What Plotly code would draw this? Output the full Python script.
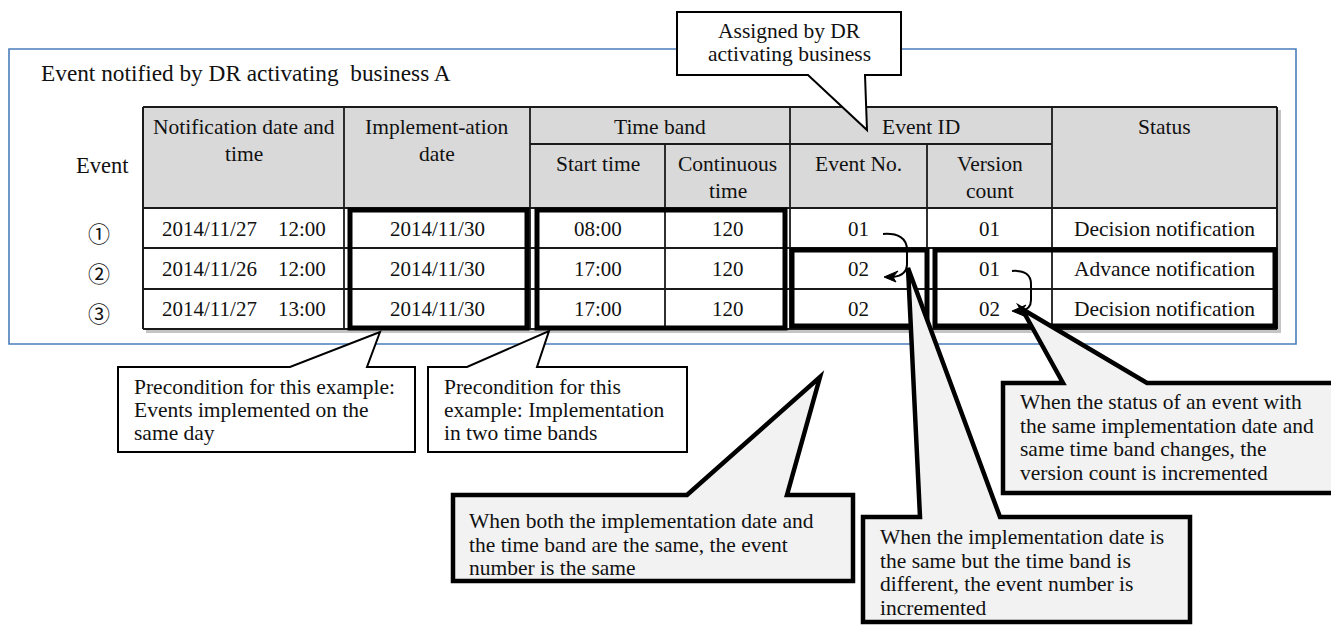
import plotly.graph_objects as go

W, H = 1339, 626
BODY_MARGIN = 8  # default page margin of the html body
SERIF = "Liberation Serif, Times New Roman, serif"
CJK = "Noto Sans CJK JP, DejaVu Sans, sans-serif"

# ---------------- data ----------------
title_text = "Event notified by DR activating\u00a0 business A"
events = ["①", "②", "③"]
notification = ["2014/11/27\u300012:00", "2014/11/26\u300012:00", "2014/11/27\u300013:00"]
impl_date = ["2014/11/30", "2014/11/30", "2014/11/30"]
start_time = ["08:00", "17:00", "17:00"]
continuous = ["120", "120", "120"]
event_no = ["01", "02", "02"]
version = ["01", "01", "02"]
status = ["Decision notification", "Advance notification", "Decision notification"]

header_top = ["Notification date and<br>time", "Implement-ation<br>date"]
group_headers = ["Time band", "Event ID"]
sub_headers = ["Start time", "Continuous<br>time", "Event No.", "Version<br>count"]
status_header = "Status"
event_header = "Event"

callout_assigned = ["Assigned by DR", "activating business"]
callout_pre1 = ["Precondition for this example:", "Events implemented on the", "same day"]
callout_pre2 = ["Precondition for this", "example: Implementation", "in two time bands"]
callout_same = ["When both the implementation date and",
                "the time band are the same, the event",
                "number is the same"]
callout_diff = ["When the implementation date is",
                "the same but the time band is",
                "different, the event number is",
                "incremented"]
callout_status = ["When the status of an event with",
                  "the same implementation date and",
                  "same time band changes, the",
                  "version count is incremented"]

# ---------------- layout geometry ----------------
col_x = [143, 344, 530, 665, 790, 927, 1052, 1277]
y_top, y_sub, y_head, y_bottom = 107, 144, 208, 329
row_lines = [208, 248, 289, 329]
row_text_y = [229, 269, 309]

shapes = []
annotations = []


def txt(x, y, s, size=21.5, anchor="center", family=SERIF):
    annotations.append(dict(x=x, y=y, xref="x", yref="y", text=s, showarrow=False,
                            xanchor=anchor, yanchor="middle",
                            font=dict(family=family, size=size, color="#111111")))


def line(x0, y0, x1, y1, w=1.8, c="#1a1a1a"):
    shapes.append(dict(type="line", xref="x", yref="y", x0=x0, y0=y0, x1=x1, y1=y1,
                       line=dict(color=c, width=w), layer="above"))


def rect(x0, y0, x1, y1, fill="rgba(0,0,0,0)", lc="rgba(0,0,0,0)", w=0):
    shapes.append(dict(type="rect", xref="x", yref="y", x0=x0, y0=y0, x1=x1, y1=y1,
                       fillcolor=fill, line=dict(color=lc, width=w), layer="above"))


def path(pts, fill, lc="#000000", w=2, close=True):
    d = "M " + " L ".join(f"{x},{y}" for x, y in pts) + (" Z" if close else "")
    shapes.append(dict(type="path", xref="x", yref="y", path=d, fillcolor=fill,
                       line=dict(color=lc, width=w), layer="above"))


# outer blue frame
rect(9, 49, 1296, 344, lc="#4a7ebb", w=1.6)

# table shadow + fills
rect(146, 110, 1281, 333, fill="#c4c4c4")
rect(col_x[0], y_top, col_x[-1], y_head, fill="#d9d9d9")
rect(col_x[0], y_head, col_x[-1], y_bottom, fill="#ffffff")

# grid
line(col_x[0], y_top, col_x[-1], y_top, 2)
line(col_x[2], y_sub, col_x[6], y_sub)
for yy in row_lines:
    line(col_x[0], yy, col_x[-1], yy, 2 if yy in (y_head, y_bottom) else 1.8)
for i, xx in enumerate(col_x):
    if i in (3, 5):
        line(xx, y_sub, xx, y_bottom)
    else:
        line(xx, y_top, xx, y_bottom, 2 if i in (0, 7) else 1.8)

# thick highlight boxes
for (x0, y0, x1, y1) in [(350, 210, 527, 328), (537, 210, 785, 328),
                         (792, 250, 927, 326), (935, 250, 1275, 326)]:
    rect(x0, y0, x1, y1, lc="#000000", w=5)

# curved arrows
shapes.append(dict(type="path", xref="x", yref="y", layer="above",
                   path="M 883,234 C 898,233 907,238 907,250 L 907,264 C 907,272 901,276 893,277",
                   line=dict(color="#000", width=2)))
path([(884, 277), (898, 271), (893, 277), (896, 282)], "#000", "#000", 1)
shapes.append(dict(type="path", xref="x", yref="y", layer="above",
                   path="M 1012,271 C 1025,270 1031,275 1031,284 L 1031,300 C 1031,307 1027,310 1021,311",
                   line=dict(color="#000", width=2)))
path([(1012, 311), (1026, 305), (1021, 311), (1024, 316)], "#000", "#000", 1)

# callouts
path([(677, 12), (901, 12), (901, 75), (865, 75), (867, 130), (808, 75), (677, 75)], "#ffffff", w=2)
path([(118, 367), (290, 367), (380, 332), (367, 367), (415, 367), (415, 452), (118, 452)], "#ffffff", w=2)
path([(428, 367), (467, 367), (549, 331), (537, 367), (687, 367), (687, 452), (428, 452)], "#ffffff", w=2)
path([(453, 495), (687, 495), (820, 377), (787, 495), (853, 495), (853, 581), (453, 581)], "#f2f2f2", w=4.5)
path([(863, 517), (920, 517), (908, 268), (1000, 517), (1190, 517), (1190, 622), (863, 622)], "#f2f2f2", w=4.5)
path([(1003, 383), (1063, 383), (1022, 309), (1147, 383), (1336, 383), (1336, 493), (1003, 493)], "#f2f2f2", w=4.5)

# ---------------- text ----------------
txt(39, 73, title_text, size=23.3, anchor="left")
txt(102, 165, event_header, size=22.5)

centers = [(col_x[i] + col_x[i + 1]) / 2 for i in range(len(col_x) - 1)]


def multiline(xc, y_first, s, spacing=27, anchor="center", size=21.5):
    for k, part in enumerate(s.split("<br>")):
        txt(xc, y_first + k * spacing, part, size=size, anchor=anchor)


multiline(centers[0], 127, header_top[0])
multiline(centers[1], 127, header_top[1])
txt((col_x[2] + col_x[4]) / 2, 127, group_headers[0])
txt((col_x[4] + col_x[6]) / 2, 127, group_headers[1])
for j, s in enumerate(sub_headers):
    multiline(centers[2 + j], 164, s)
txt(centers[6], 127, status_header)

columns = [notification, impl_date, start_time, continuous, event_no, version, status]
for ci, col in enumerate(columns):
    for ri, val in enumerate(col):
        txt(centers[ci], row_text_y[ri], val, size=21.5 if ci == 6 else 21)
for ri, ev in enumerate(events):
    txt(99, row_text_y[ri] + 3, ev, size=22, family=CJK)

for k, s in enumerate(callout_assigned):
    txt(789, 31 + k * 23, s)
for k, s in enumerate(callout_pre1):
    txt(132, 387 + k * 23, s, anchor="left")
for k, s in enumerate(callout_pre2):
    txt(442, 387 + k * 23, s, anchor="left")
for k, s in enumerate(callout_same):
    txt(467, 521 + k * 23.5, s, anchor="left")
for k, s in enumerate(callout_diff):
    txt(878, 537 + k * 23.7, s, anchor="left")
for k, s in enumerate(callout_status):
    txt(1018, 402 + k * 23.7, s, anchor="left")

# the page body has an 8px margin, so the drawing area starts 8px in
fig = go.Figure()
fig.update_layout(
    width=W - BODY_MARGIN, height=H - BODY_MARGIN,
    margin=dict(l=0, r=0, t=0, b=0),
    paper_bgcolor="#ffffff", plot_bgcolor="#ffffff",
    xaxis=dict(range=[BODY_MARGIN, W], visible=False, fixedrange=True),
    yaxis=dict(range=[H, BODY_MARGIN], visible=False, fixedrange=True),
    shapes=shapes, annotations=annotations, showlegend=False,
)
fig.write_html("out.html")
